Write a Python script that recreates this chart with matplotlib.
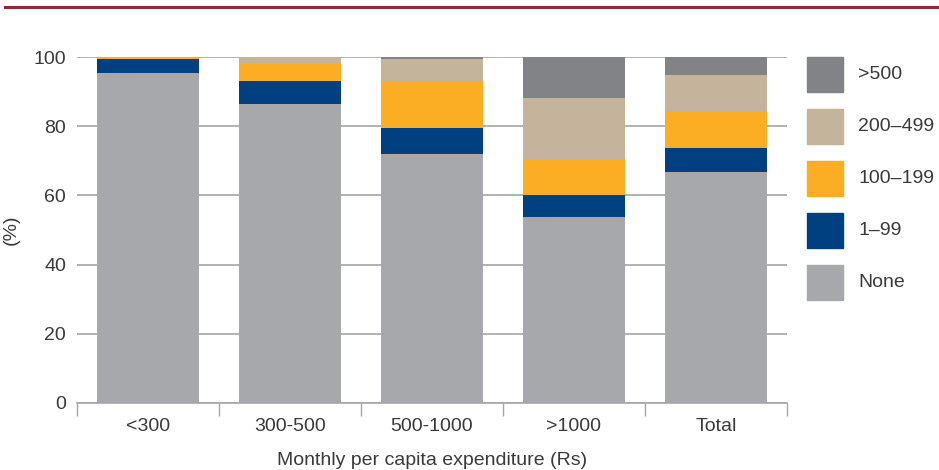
import numpy as np
import matplotlib.pyplot as plt
from matplotlib.lines import Line2D
from matplotlib.patches import Rectangle

categories = ['<300', '300-500', '500-1000', '>1000', 'Total']
series = ['None', '1\u201399', '100\u2013199', '200\u2013499', '>500']
none = [95.4, 86.4, 72.0, 53.8, 66.8]
s1_99 = [4.0, 6.7, 7.5, 6.3, 6.9]
s100_199 = [0.6, 5.0, 13.6, 10.4, 10.7]
s200_499 = [0.0, 1.9, 6.3, 17.7, 10.4]
s500 = [0.0, 0.0, 0.6, 11.8, 5.2]
colors = ['#a7a8ac', '#004080', '#fbae24', '#c4b49b', '#828387']

plt.rcParams['font.family'] = ['Liberation Sans', 'DejaVu Sans']
W, H = 939, 470
fs = 14
txt = '#3a3a3a'
fig = plt.figure(figsize=(W / 100, H / 100), dpi=100)
ax = fig.add_axes([0.082, 0.1426, 0.756, 0.7361])

x = np.arange(len(categories))
bottom = np.zeros(len(categories))
for name, vals, c in zip(series, [none, s1_99, s100_199, s200_499, s500], colors):
    ax.bar(x, vals, width=0.72, bottom=bottom, color=c, label=name, zorder=2)
    bottom += np.array(vals)

ax.set_xlim(-0.5, len(categories) - 0.5)
ax.set_ylim(0, 100)
ax.set_yticks([0, 20, 40, 60, 80, 100])
ax.yaxis.grid(True, color='#a6a6a6', linewidth=1.2, zorder=1)
ax.set_axisbelow(True)
for s in ['top', 'right', 'left']:
    ax.spines[s].set_visible(False)
ax.spines['bottom'].set_color('#a6a6a6')
ax.spines['bottom'].set_linewidth(1.2)

ax.set_xticks(np.arange(-0.5, len(categories)), labels=[])
ax.set_xticks(x, labels=categories, minor=True)
ax.tick_params(axis='x', which='major', length=9, color='#a6a6a6', width=1)
ax.tick_params(axis='x', which='minor', length=0, labelsize=fs, labelcolor=txt, pad=11)
ax.tick_params(axis='y', length=0, labelsize=fs, labelcolor=txt, pad=8)
ax.set_ylabel('(%)', fontsize=fs, color=txt, labelpad=10)
ax.set_xlabel('Monthly per capita expenditure (Rs)', fontsize=fs, color=txt, labelpad=12)

# legend, top entry first
for i, (name, c) in enumerate(zip(series[::-1], colors[::-1])):
    top = 57 + 52 * i
    fig.add_artist(Rectangle((807 / W, 1 - (top + 35) / H), 36 / W, 35 / H,
                             color=c, transform=fig.transFigure))
    fig.text(858 / W, 1 - (top + 17.5) / H, name, fontsize=fs, color=txt, va='center')

fig.add_artist(Line2D([5 / W, 1], [1 - 7 / H, 1 - 7 / H], color='#8b2a35', linewidth=2.2,
                      transform=fig.transFigure))

fig.savefig('out.png', dpi=100)
